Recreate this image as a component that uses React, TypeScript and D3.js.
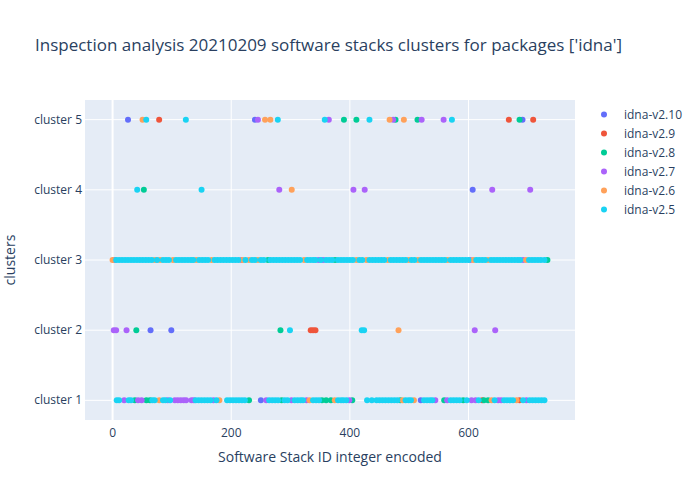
import React from "react";
import * as d3 from "d3";

const titleText = "Inspection analysis 20210209 software stacks clusters for packages ['idna']";
const clusterLabels = ["cluster 1", "cluster 2", "cluster 3", "cluster 4", "cluster 5"];
const xTickValues = [0, 200, 400, 600];
const seriesNames = ["idna-v2.10", "idna-v2.9", "idna-v2.8", "idna-v2.7", "idna-v2.6", "idna-v2.5"];
const seriesColors = ["#636efa", "#EF553B", "#00cc96", "#ab63fa", "#FFA15A", "#19d3f3"];

// [stack id, cluster number]
const idnaV210: [number, number][] = [
  [26, 5], [240, 5], [691, 5],
  [607, 4],
  [64, 2], [99, 2],
  [250, 1], [519.5, 1],
];

const idnaV29: [number, number][] = [
  [78.5, 5], [668, 5], [709, 5],
  [334, 2], [338, 2], [342, 2],
  [623, 1], [686, 1],
];

const idnaV28: [number, number][] = [
  [390, 5], [411, 5], [477, 5], [514, 5], [686, 5],
  [52.7, 4],
  [262, 3], [375, 3], [733, 3],
  [40, 2], [283, 2],
  [37.6, 1], [57, 1], [63, 1], [230, 1], [285, 1], [353, 1], [360, 1], [368, 1],
  [404, 1], [485, 1], [559, 1], [591, 1], [626, 1], [633, 1],
];

const idnaV27: [number, number][] = [
  [245, 5], [364.5, 5], [473, 5], [521, 5], [558, 5],
  [281, 4], [406, 4], [425, 4], [640, 4], [704, 4],
  [3, 3], [217, 3], [347, 3], [355, 3], [603, 3], [692, 3],
  [2, 2], [6, 2], [23.5, 2], [610.5, 2], [645, 2],
  [19.6, 1], [43, 1], [49, 1], [93, 1], [105, 1], [110, 1], [115, 1], [120, 1],
  [124, 1], [133, 1], [137, 1], [170, 1], [259, 1], [301.5, 1], [327, 1], [399, 1],
  [544, 1], [564, 1], [605, 1], [612, 1], [650, 1], [655, 1], [697.5, 1],
];

const idnaV26: [number, number][] = [
  [50.5, 5], [257, 5], [266, 5], [467, 5], [491, 5],
  [302, 4],
  [0, 3], [71, 3], [80, 3], [102, 3], [141, 3], [167, 3], [219, 3], [230, 3],
  [245, 3], [323, 3], [411, 3], [428, 3], [464, 3], [499, 3], [515, 3], [565, 3],
  [608, 3], [633, 3], [697, 3],
  [482, 2],
  [78.6, 1], [180, 1], [332, 1], [374.6, 1], [489, 1], [508, 1], [639, 1], [681, 1],
];

const idnaV25Cluster5 = [56.7, 123.5, 278.5, 357.7, 433, 572];
const idnaV25Cluster4 = [41.5, 150];
const idnaV25Cluster3 = [
  6, 11, 16, 21, 26, 31, 36, 41, 46, 51, 56, 61, 66, 75, 85, 90, 95, 107, 112, 117,
  122, 127, 132, 136, 146, 151, 156, 161, 172, 177, 182, 187, 192, 197, 202, 207,
  212, 224, 235, 240, 250, 255, 266, 271, 276, 281, 286, 291, 296, 301, 306, 311,
  316, 328, 333, 338, 342, 351, 360, 365, 370, 380, 385, 390, 395, 400, 405, 416,
  421, 433, 438, 443, 448, 453, 458, 469, 474, 479, 484, 489, 494, 504, 509, 520,
  525, 530, 535, 540, 545, 550, 555, 560, 570, 575, 580, 585, 590, 595, 600, 613,
  618, 623, 628, 638, 643, 648, 653, 658, 663, 668, 673, 678, 683, 687, 702, 707,
  712, 717, 722, 728,
];
const idnaV25Cluster2 = [299, 420, 424];
const idnaV25Cluster1 = [
  7, 11, 27, 31, 67, 71, 85, 89, 97, 140, 145, 150, 155, 160, 165, 175,
  193, 198, 203, 208, 213, 218, 223,
  264, 269, 274, 279, 290, 295, 307, 312, 317, 321, 338, 343, 348, 380, 385, 389, 394,
  429, 437, 445, 450, 455, 460, 465, 470, 475, 480, 494, 499, 503,
  525, 530, 535, 539,
  570, 575, 580, 585, 597, 617, 644, 660, 665, 670, 675, 692, 703, 708, 713, 718, 723, 728,
];

const idnaV25: [number, number][] = [
  ...idnaV25Cluster5.map((v) => [v, 5] as [number, number]),
  ...idnaV25Cluster4.map((v) => [v, 4] as [number, number]),
  ...idnaV25Cluster3.map((v) => [v, 3] as [number, number]),
  ...idnaV25Cluster2.map((v) => [v, 2] as [number, number]),
  ...idnaV25Cluster1.map((v) => [v, 1] as [number, number]),
];

const allSeries = [idnaV210, idnaV29, idnaV28, idnaV27, idnaV26, idnaV25];

const W = 700;
const H = 500;
const plotLeft = 85;
const plotRight = 575;
const plotTop = 100;
const plotBottom = 420;
const font = "'Open Sans', verdana, arial, sans-serif";
const textColor = "#2a3f5f";

export default function App() {
  const x = d3.scaleLinear().domain([-46.5, 779.5]).range([plotLeft, plotRight]);
  const y = d3.scaleLinear().domain([-0.28, 4.28]).range([plotBottom, plotTop]);

  return (
    <svg
      width={W}
      height={H}
      style={{ position: "absolute", left: 0, top: 0, background: "#fff" }}
      fontFamily={font}
    >
      <rect x={0} y={0} width={W} height={H} fill="#fff" />
      <rect
        x={plotLeft}
        y={plotTop}
        width={plotRight - plotLeft}
        height={plotBottom - plotTop}
        fill="#E5ECF6"
      />
      {/* grid */}
      {xTickValues.map((t) => (
        <line
          key={"gx" + t}
          x1={x(t)}
          x2={x(t)}
          y1={plotTop}
          y2={plotBottom}
          stroke="#fff"
          strokeWidth={t === 0 ? 2 : 1}
        />
      ))}
      {clusterLabels.map((c, i) => (
        <line
          key={"gy" + c}
          x1={plotLeft}
          x2={plotRight}
          y1={y(i)}
          y2={y(i)}
          stroke="#fff"
          strokeWidth={1}
        />
      ))}
      {/* points */}
      {allSeries.map((s, si) => (
        <g key={seriesNames[si]} fill={seriesColors[si]}>
          {s.map(([v, c], pi) => (
            <circle key={pi} cx={x(v)} cy={y(c - 1)} r={3} />
          ))}
        </g>
      ))}
      {/* x tick labels */}
      {xTickValues.map((t) => (
        <text
          key={"tx" + t}
          x={x(t)}
          y={437}
          textAnchor="middle"
          fontSize={12}
          fill={textColor}
        >
          {t}
        </text>
      ))}
      {/* y tick labels */}
      {clusterLabels.map((c, i) => (
        <text
          key={"ty" + c}
          x={plotLeft - 3}
          y={y(i) + 4}
          textAnchor="end"
          fontSize={12}
          fill={textColor}
        >
          {c}
        </text>
      ))}
      {/* axis titles */}
      <text
        x={(plotLeft + plotRight) / 2}
        y={462}
        textAnchor="middle"
        fontSize={14}
        fill={textColor}
      >
        Software Stack ID integer encoded
      </text>
      <text
        transform={`translate(15,${(plotTop + plotBottom) / 2}) rotate(-90)`}
        textAnchor="middle"
        fontSize={14}
        fill={textColor}
      >
        clusters
      </text>
      {/* title */}
      <text x={35} y={51} fontSize={17} fill={textColor}>
        {titleText}
      </text>
      {/* legend */}
      {seriesNames.map((n, i) => (
        <g key={"lg" + n} transform={`translate(0,${114.5 + i * 19})`}>
          <circle cx={604} cy={0} r={3} fill={seriesColors[i]} />
          <text x={624} y={4.5} fontSize={12} fill={textColor}>
            {n}
          </text>
        </g>
      ))}
    </svg>
  );
}
